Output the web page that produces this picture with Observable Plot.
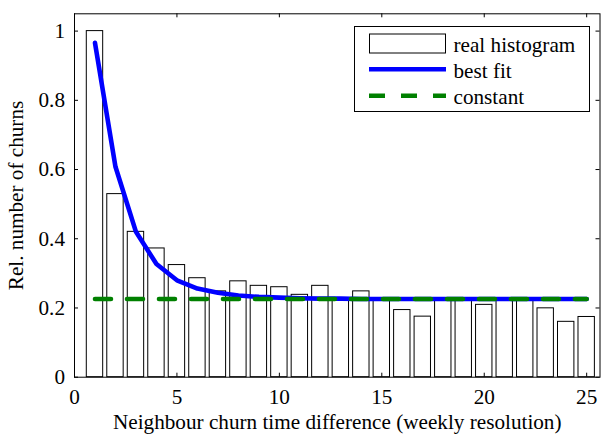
<!DOCTYPE html>
<html>
<head>
<meta charset="utf-8">
<script src="https://cdn.jsdelivr.net/npm/d3@7"></script>
<script src="https://cdn.jsdelivr.net/npm/@observablehq/plot@0.6"></script>
<style>
  html, body { margin: 0; padding: 0; background: #fff; font-family: 'Liberation Serif', serif; }
  #wrap { position: relative; width: 601px; height: 435px; }
  #wrap > svg { position: absolute; left: 0; top: 0; }
</style>
</head>
<body>
<div id="wrap"></div>
<script>
const weeks = d3.range(1, 26);
const histValues = [1.0, 0.529, 0.420, 0.372, 0.324, 0.286, 0.248, 0.277, 0.264, 0.260, 0.238, 0.264, 0.228, 0.248, 0.226, 0.194, 0.175, 0.225, 0.227, 0.209, 0.224, 0.226, 0.199, 0.160, 0.174];
const fitValues = [0.966, 0.608, 0.420, 0.327, 0.280, 0.256, 0.244, 0.236, 0.232, 0.230, 0.228, 0.227, 0.227, 0.226, 0.226, 0.226, 0.226, 0.226, 0.226, 0.226, 0.226, 0.226, 0.226, 0.226, 0.226];
const constantValue = 0.226;
const constantRange = [1, 25];
const xTicks = [0, 5, 10, 15, 20, 25];
const yTicks = [0, 0.2, 0.4, 0.6, 0.8, 1];
const yTickLabels = ["0", "0.2", "0.4", "0.6", "0.8", "1"];
const xLabel = "Neighbour churn time difference (weekly resolution)";
const yLabel = "Rel. number of churns";
const legendLabels = ["real histogram", "best fit", "constant"];

const hist = weeks.map((w, i) => ({x: w, y: histValues[i]}));
const fit = weeks.map((w, i) => ({x: w, y: fitValues[i]}));
const constant = constantRange.map(x => ({x, y: constantValue}));

const W = 601, H = 435;
const mL = 74, mR = 1.5, mT = 13.3, mB = 58.3;
const plotW = W - mL - mR, plotH = H - mT - mB;
const tick = 4;
const blue = "#0000ff", green = "#008000";
const FONT = "Liberation Serif";

function draw(FS) {
  const wrap = document.getElementById("wrap");
  wrap.innerHTML = "";
  const chart = Plot.plot({
    width: W, height: H,
    marginLeft: mL, marginRight: mR, marginTop: mT, marginBottom: mB,
    style: {fontFamily: FONT, fontSize: FS + "px", background: "#fff", color: "#000"},
    x: {domain: [0, 25.65], label: null},
    y: {domain: [0, 1.05], label: null},
    marks: [
      Plot.rectY(hist, {x1: d => d.x - 0.4, x2: d => d.x + 0.4, y1: 0, y2: "y", fill: "#fff", stroke: "#000", strokeWidth: 1}),
      Plot.line(fit, {x: "x", y: "y", stroke: blue, strokeWidth: 4.6, strokeLinejoin: "round"}),
      Plot.line(constant, {x: "x", y: "y", stroke: green, strokeWidth: 4.6, strokeDasharray: "16,16"}),
      Plot.frame({stroke: "#000", strokeWidth: 1}),
      Plot.ruleX(xTicks, {x: d => d, insetTop: plotH - tick, stroke: "#000"}),
      Plot.ruleX(xTicks, {x: d => d, insetBottom: plotH - tick, stroke: "#000"}),
      Plot.ruleY(yTicks, {y: d => d, insetRight: plotW - tick, stroke: "#000"}),
      Plot.ruleY(yTicks, {y: d => d, insetLeft: plotW - tick, stroke: "#000"}),
      Plot.axisX({ticks: xTicks, tickSize: 0, tickPadding: 12, tickFormat: d => String(d), label: xLabel, labelAnchor: "center", labelArrow: "none", labelOffset: 52, fontSize: FS, fontFamily: FONT}),
      Plot.axisY({ticks: yTicks, tickSize: 0, tickPadding: 9.5, tickFormat: d => yTickLabels[yTicks.indexOf(d)], label: yLabel, labelAnchor: "center", labelArrow: "none", labelOffset: 67, fontSize: FS, fontFamily: FONT})
    ]
  });
  d3.select(chart).selectAll("text").attr("font-family", FONT).attr("font-size", FS);
  wrap.appendChild(chart);

  // legend overlay (box at top-right of the axes)
  const lg = d3.select(wrap).append("svg")
    .attr("width", W).attr("height", H)
    .style("pointer-events", "none");
  const g = lg.append("g").attr("transform", "translate(354.5,26.5)");
  g.append("rect").attr("width", 235).attr("height", 85).attr("fill", "#fff").attr("stroke", "#000").attr("stroke-width", 1);
  g.append("rect").attr("x", 15).attr("y", 7.5).attr("width", 76).attr("height", 19).attr("fill", "#fff").attr("stroke", "#000");
  g.append("line").attr("x1", 14.5).attr("x2", 91.5).attr("y1", 42.7).attr("y2", 42.7).attr("stroke", blue).attr("stroke-width", 4.6);
  g.append("line").attr("x1", 14.5).attr("x2", 91.5).attr("y1", 69.3).attr("y2", 69.3).attr("stroke", green).attr("stroke-width", 4.6).attr("stroke-dasharray", "16,16");
  const baselines = [25.3, 51.0, 77.0];
  legendLabels.forEach((t, i) => {
    g.append("text").attr("x", 99).attr("y", baselines[i])
      .attr("font-family", FONT).attr("font-size", FS).attr("fill", "#000").text(t);
  });
}

draw(21.2);
[80, 250, 600, 1200].forEach((ms, k) => setTimeout(() => draw(21.2 + 0.001 * (k + 1)), ms));
</script>
</body>
</html>
